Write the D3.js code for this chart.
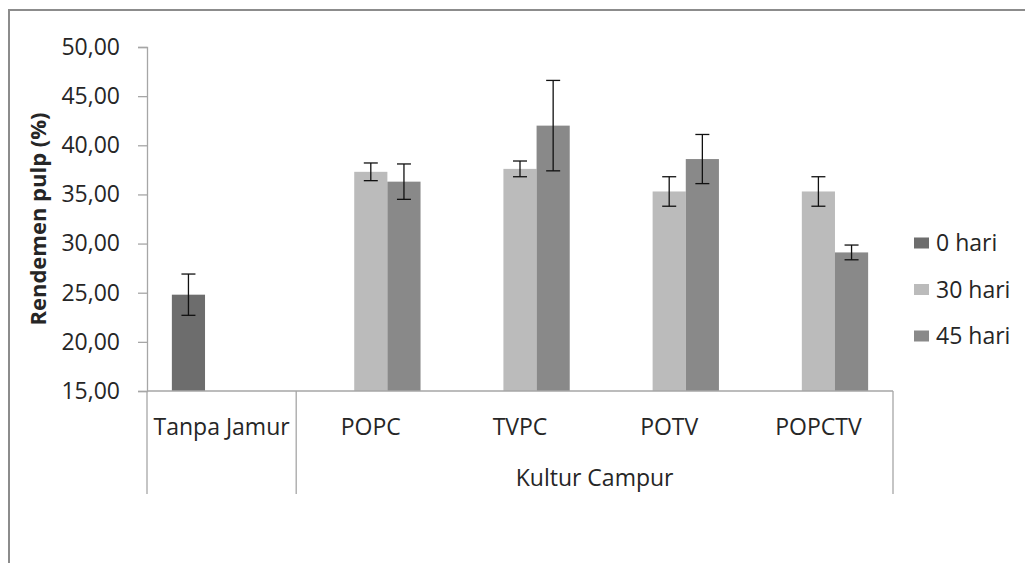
<!DOCTYPE html>
<html>
<head>
<meta charset="utf-8">
<script src="https://cdn.jsdelivr.net/npm/d3@7/dist/d3.min.js"></script>
<style>
  html, body { margin: 0; padding: 0; background: #fff; }
  svg { display: block; }
  text { font-family: "Open Sans", "Noto Sans", sans-serif; fill: #262626; }
</style>
</head>
<body>
<svg id="chart" width="1025" height="563"></svg>
<script>
// ---- data ----
const categories = ["Tanpa Jamur", "POPC", "TVPC", "POTV", "POPCTV"];
const groupLabels = ["", "Kultur Campur"];
const seriesNames = ["0 hari", "30 hari", "45 hari"];
const values0 = [24.8, null, null, null, null];
const errors0 = [2.1, null, null, null, null];
const values30 = [null, 37.3, 37.6, 35.3, 35.3];
const errors30 = [null, 0.9, 0.8, 1.5, 1.5];
const values45 = [null, 36.3, 42.0, 38.6, 29.1];
const errors45 = [null, 1.8, 4.6, 2.5, 0.75];
const yTicks = [15, 20, 25, 30, 35, 40, 45, 50];

const seriesValues = [values0, values30, values45];
const seriesErrors = [errors0, errors30, errors45];
const colors = ["#6d6d6d", "#bbbbbb", "#898989"];

const svg = d3.select("#chart");
const W = 1025, H = 563;
const plot = { left: 147, right: 893, top: 47, bottom: 391 };
const catBottom = 494;
const FS = "23px";

// outer frame
svg.append("rect").attr("x", 9).attr("y", 10).attr("width", W + 20).attr("height", H + 20)
  .attr("fill", "none").attr("stroke", "#8c8c8c").attr("stroke-width", 2);

const y = d3.scaleLinear().domain([15, 50]).range([plot.bottom, plot.top]);
const x = d3.scaleBand().domain(categories).range([plot.left, plot.right]).paddingInner(0).paddingOuter(0);
const xs = d3.scaleBand().domain(seriesNames).range([0, x.bandwidth()]).paddingInner(0).paddingOuter(0.75);

// y axis
const yAxis = d3.axisLeft(y).tickValues(yTicks).tickSize(9).tickPadding(18)
  .tickFormat(d => d3.format(".2f")(d).replace(".", ","));
const gy = svg.append("g").attr("transform", `translate(${plot.left},0)`).call(yAxis);
gy.select(".domain").attr("stroke", "#a6a6a6").attr("stroke-width", 1.3);
gy.selectAll(".tick line").attr("stroke", "#a6a6a6").attr("stroke-width", 1.3);
gy.selectAll(".tick text").style("font-size", FS).attr("fill", "#262626");

// bars
const gBars = svg.append("g");
seriesNames.forEach((s, si) => {
  const data = categories.map((c, i) => ({ c, v: seriesValues[si][i], e: seriesErrors[si][i] }))
    .filter(d => d.v !== null);
  gBars.selectAll(null).data(data).enter().append("rect")
    .attr("x", d => x(d.c) + xs(s))
    .attr("y", d => y(d.v))
    .attr("width", xs.bandwidth())
    .attr("height", d => y(15) - y(d.v))
    .attr("fill", colors[si]);
});

// x axis line
svg.append("line").attr("x1", plot.left).attr("x2", plot.right)
  .attr("y1", plot.bottom).attr("y2", plot.bottom)
  .attr("stroke", "#a6a6a6").attr("stroke-width", 1.3);

// category separators (group boundaries)
const seps = [x(categories[0]), x(categories[1]), x(categories[4]) + x.bandwidth()];
svg.selectAll(null).data(seps).enter().append("line")
  .attr("x1", d => d).attr("x2", d => d)
  .attr("y1", plot.bottom).attr("y2", catBottom)
  .attr("stroke", "#a6a6a6").attr("stroke-width", 1.3);

// error bars
const gErr = svg.append("g");
seriesNames.forEach((s, si) => {
  const data = categories.map((c, i) => ({ c, v: seriesValues[si][i], e: seriesErrors[si][i] }))
    .filter(d => d.v !== null);
  const cx = d => x(d.c) + xs(s) + xs.bandwidth() / 2;
  gErr.selectAll(null).data(data).enter().append("line")
    .attr("x1", cx).attr("x2", cx)
    .attr("y1", d => y(d.v + d.e)).attr("y2", d => y(d.v - d.e))
    .attr("stroke", "#111").attr("stroke-width", 1.3);
  [1, -1].forEach(sign => {
    gErr.selectAll(null).data(data).enter().append("line")
      .attr("x1", d => cx(d) - 7).attr("x2", d => cx(d) + 7)
      .attr("y1", d => y(d.v + sign * d.e)).attr("y2", d => y(d.v + sign * d.e))
      .attr("stroke", "#111").attr("stroke-width", 1.3);
  });
});

// category labels
svg.selectAll(null).data(categories).enter().append("text")
  .attr("x", d => x(d) + x.bandwidth() / 2)
  .attr("y", 435)
  .attr("text-anchor", "middle")
  .style("font-size", FS)
  .text(d => d);

// group label
svg.append("text")
  .attr("x", (x(categories[1]) + x(categories[4]) + x.bandwidth()) / 2)
  .attr("y", 486)
  .attr("text-anchor", "middle")
  .style("font-size", FS)
  .text(groupLabels[1]);

// y title
svg.append("text")
  .attr("transform", `translate(46,${(plot.top + plot.bottom) / 2}) rotate(-90)`)
  .attr("text-anchor", "middle")
  .style("font-size", "22px")
  .style("font-weight", "bold")
  .text("Rendemen pulp (%)");

// legend
const lg = svg.append("g");
seriesNames.forEach((s, i) => {
  const ly = 243 + i * 46.5;
  lg.append("rect").attr("x", 914).attr("y", ly - 5.5).attr("width", 15).attr("height", 11).attr("fill", colors[i]);
  lg.append("text").attr("x", 936).attr("y", ly).attr("dy", "0.35em")
    .style("font-size", FS).text(s);
});
</script>
</body>
</html>
